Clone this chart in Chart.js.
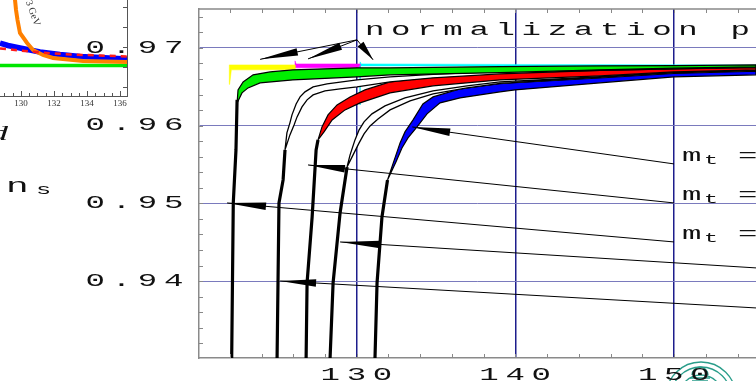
<!DOCTYPE html>
<html>
<head>
<meta charset="utf-8">
<script src="https://cdn.jsdelivr.net/npm/chart.js@4.4.1/dist/chart.umd.min.js"></script>
<style>
  html, body { margin: 0; padding: 0; background: #fff; }
  #wrap { position: relative; width: 756px; height: 381px; overflow: hidden; }
  #inset, #main { position: absolute; left: 0; top: 0; }
</style>
</head>
<body>
<div id="wrap">
  <canvas id="inset" width="135" height="110"></canvas>
  <canvas id="main" width="756" height="381"></canvas>
</div>
<script>
// ---- main panel: n_s against m_H (GeV) ----
var xTicks = [130, 140, 150];
var yTicks = [0.94, 0.95, 0.96, 0.97];
var xMinor = [122, 124, 126, 128, 130, 132, 134, 136, 138, 140, 142, 144, 146, 148, 150, 152, 154];
var yMinor = [0.932, 0.934, 0.936, 0.938, 0.940, 0.942, 0.944, 0.946, 0.948, 0.950, 0.952,
              0.954, 0.956, 0.958, 0.960, 0.962, 0.964, 0.966, 0.968, 0.970, 0.972, 0.974];

var greenStem = [[122.12, 0.9301], [122.22, 0.95005], [122.39, 0.95687], [122.46, 0.96331]];
var greenUpper = [[122.46, 0.96292], [122.52, 0.96459], [122.84, 0.96562], [123.47, 0.96653], [124.54, 0.96691],
                  [125.98, 0.96717], [130.02, 0.96743], [132.10, 0.96743], [139.03, 0.96759], [145.33, 0.96768],
                  [149.99, 0.96772], [155.16, 0.96781]];
var greenLower = [[122.46, 0.96292], [122.77, 0.96421], [123.15, 0.96485], [123.91, 0.96550], [125.98, 0.96588],
                  [130.02, 0.96627], [132.10, 0.96653], [139.03, 0.96682], [145.33, 0.96717], [149.99, 0.96739],
                  [155.16, 0.96755]];

var w1Stem = [[124.98, 0.9301], [125.10, 0.95005], [125.36, 0.95301], [125.48, 0.95687]];
var w1Outer = [[125.48, 0.95687], [125.60, 0.95906], [125.79, 0.96035], [125.92, 0.96138], [126.18, 0.96279],
               [126.43, 0.96369], [126.74, 0.96434], [127.25, 0.96498], [128.13, 0.96537], [130.02, 0.96588],
               [132.10, 0.96627], [134.81, 0.96659], [139.03, 0.96698], [145.33, 0.96725], [155.16, 0.96760]];
var w1Inner = [[125.48, 0.95687], [125.79, 0.95880], [126.05, 0.96009], [126.24, 0.96112], [126.55, 0.96241],
               [126.87, 0.96331], [127.25, 0.96395], [128.00, 0.96447], [128.95, 0.96472], [130.02, 0.96498],
               [132.10, 0.96562], [134.81, 0.96614], [139.03, 0.96665], [145.33, 0.96712], [155.16, 0.96752]];

var redStem = [[126.81, 0.9301], [126.87, 0.93976], [127.19, 0.94825], [127.44, 0.95687], [127.56, 0.95816]];
var redUpper = [[127.56, 0.95816], [127.81, 0.95983], [128.19, 0.96138], [128.76, 0.96266], [129.58, 0.96369],
                [130.52, 0.96459], [132.10, 0.96562], [134.81, 0.96627], [139.03, 0.96678], [145.33, 0.96710],
                [149.99, 0.96730], [155.16, 0.96745]];
var redLower = [[127.56, 0.95816], [127.94, 0.95919], [128.45, 0.96073], [129.26, 0.96202], [130.21, 0.96292],
                [132.10, 0.96421], [134.81, 0.96511], [139.03, 0.96588], [145.33, 0.96640], [149.99, 0.96691],
                [155.16, 0.96717]];

var w2Stem = [[128.32, 0.9301], [128.51, 0.93976], [128.95, 0.94876], [129.39, 0.95468]];
var w2Outer = [[129.39, 0.95468], [129.58, 0.95623], [129.89, 0.95816], [130.15, 0.95945], [130.46, 0.96048],
               [130.96, 0.96151], [131.78, 0.96254], [133.04, 0.96356], [134.81, 0.96447], [136.95, 0.96511],
               [139.03, 0.96562], [145.33, 0.96630], [149.99, 0.96684], [155.16, 0.96712]];
var w2Inner = [[129.39, 0.95468], [129.77, 0.95623], [130.15, 0.95777], [130.46, 0.95893], [130.84, 0.95996],
               [131.34, 0.96086], [132.10, 0.96202], [133.36, 0.96318], [134.81, 0.96408], [136.95, 0.96485],
               [139.03, 0.96543], [145.33, 0.96620], [149.99, 0.96677], [155.16, 0.96706]];

var blueStem = [[131.15, 0.9301], [131.28, 0.93976], [131.59, 0.94825], [131.94, 0.95301]];
var blueUpper = [[131.94, 0.95301], [132.41, 0.95584], [132.73, 0.95777], [133.04, 0.95919], [133.55, 0.96073],
                 [134.17, 0.96279], [134.81, 0.96369], [136.51, 0.96472], [139.03, 0.96540], [139.97, 0.96552],
                 [145.33, 0.96614], [149.99, 0.96672], [155.16, 0.96700]];
var blueLower = [[131.94, 0.95301], [132.47, 0.95533], [132.85, 0.95713], [133.23, 0.95842], [133.80, 0.95983],
                 [134.43, 0.96151], [135.25, 0.96292], [136.51, 0.96356], [139.03, 0.96434], [139.97, 0.96459],
                 [145.33, 0.96550], [149.99, 0.96627], [155.16, 0.96653]];

// normalization point strips
var yellowBar = [[121.97, 0.96781], [126.11, 0.96781], [126.11, 0.96717], [122.10, 0.96717], [121.99, 0.96530],
                 [121.97, 0.96717], [121.97, 0.96781]];
var magentaBar = [[126.11, 0.96743], [126.11, 0.96833], [126.18, 0.96794], [130.21, 0.96794], [130.21, 0.96743],
                  [126.11, 0.96743]];
var cyanBar = [[130.21, 0.96768], [130.21, 0.96820], [130.28, 0.96794], [140.0, 0.96787], [155.16, 0.96781],
               [155.16, 0.96768], [130.21, 0.96768]];
var cyanTick = [[130.21, 0.96768], [130.21, 0.96266]];

// arrows: first point is the tip
var arrowA = [[133.50, 0.95983], [149.99, 0.95507]];
var arrowB = [[126.93, 0.95494], [149.99, 0.95005]];
var arrowC = [[121.83, 0.95005], [149.99, 0.94503]];
var arrowD = [[128.95, 0.94503], [155.16, 0.94169]];
var arrowE = [[125.17, 0.94001], [155.16, 0.93654]];
var normArrow1 = [[123.91, 0.96852], [130.02, 0.97103]];
var normArrow2 = [[126.93, 0.96858], [130.02, 0.97103]];
var normArrow3 = [[131.03, 0.96846], [130.02, 0.97103]];

// ---- inset (top left, cut off) ----
var insetTicks = [130, 132, 134, 136];
var insetYMarks = [0.960, 0.965, 0.970, 0.975, 0.980];
var insetOrange = [[129.61, 0.98430], [129.64, 0.98180], [129.70, 0.97930], [129.79, 0.97680], [129.94, 0.97355],
                   [130.37, 0.97105], [130.73, 0.96930], [131.33, 0.96805], [131.94, 0.96730], [133.76, 0.96655],
                   [136.42, 0.96630]];
var insetBlue = [[128.73, 0.97105], [129.21, 0.97043], [129.94, 0.96980], [130.55, 0.96930], [131.15, 0.96880],
                 [132.36, 0.96818], [133.58, 0.96768], [134.79, 0.96743], [136.42, 0.96705]];
var insetRed = [[128.73, 0.96968], [129.94, 0.96918], [131.15, 0.96868], [132.97, 0.96818], [134.79, 0.96793],
                [136.42, 0.96768]];
var insetGreen = [[128.73, 0.96543], [136.42, 0.96543]];

function pts(arr) {
    return arr.map(function (p) { return {x: p[0], y: p[1]}; });
}

function line(arr, color, width) {
    return {data: pts(arr), borderColor: color, borderWidth: width, fill: false, pointRadius: 0, tension: 0};
}

function band(upper, lower, color, width) {
    var shape = upper.concat(lower.slice().reverse());
    shape.push(upper[0]);
    return {data: pts(shape), borderColor: '#000', borderWidth: width, backgroundColor: color,
            fill: 'shape', pointRadius: 0, tension: 0};
}

function arrow(arr, head) {
    var ds = line(arr, '#000', 1);
    ds.head = head;
    return ds;
}

// first dataset is drawn on top
var datasets = [
    arrow(arrowA, 38), arrow(arrowB, 37), arrow(arrowC, 39), arrow(arrowD, 40), arrow(arrowE, 36),
    arrow(normArrow1, 38), arrow(normArrow2, 35), arrow(normArrow3, 20),
    band(greenUpper, greenLower, '#00ee00', 1.2), line(greenStem, '#000', 3.2),
    band(w1Outer, w1Inner, '#fff', 1.3), line(w1Stem, '#000', 3.2),
    band(redUpper, redLower, '#ff0000', 1.2), line(redStem, '#000', 3.2),
    band(w2Outer, w2Inner, '#fff', 1.3), line(w2Stem, '#000', 3.2),
    band(blueUpper, blueLower, '#0000ff', 1.2), line(blueStem, '#000', 3.2),
    line(cyanTick, 'rgba(0,230,230,0.6)', 1)
];
[[yellowBar, '#ffff00'], [magentaBar, '#ff00ff'], [cyanBar, '#00ffff']].forEach(function (b) {
    datasets.push({data: pts(b[0]), borderColor: b[1], borderWidth: 0.5, backgroundColor: b[1],
                   fill: 'shape', pointRadius: 0, tension: 0});
});

// the old figure has wide, stretched lettering
var ctx = document.getElementById('main').getContext('2d');
var rawFill = ctx.fillText;
ctx.fillText = function (t, x, y) {
    this.save();
    this.translate(x, y);
    this.scale(1.8, 1);
    rawFill.call(this, t, 0, 0);
    this.restore();
};

var decor = {
    id: 'decor',
    beforeDraw: function (chart) {
        var c = chart.ctx;
        c.letterSpacing = '3.7px';
        // university seal, lower right
        c.save();
        c.strokeStyle = '#2a9d8a';
        c.lineWidth = 1.3;
        [35, 30, 22].forEach(function (r) {
            c.beginPath();
            c.arc(701, 397, r, 0, Math.PI * 2);
            c.stroke();
        });
        c.beginPath();
        c.arc(700, 375, 8, Math.PI, 0);
        c.moveTo(690, 378); c.lineTo(710, 378);
        c.moveTo(692, 381); c.lineTo(708, 381);
        c.stroke();
        c.restore();
    },
    afterDatasetsDraw: function (chart) {
        var c = chart.ctx;
        c.save();
        c.fillStyle = '#000';
        chart.data.datasets.forEach(function (ds, i) {
            if (!ds.head) return;
            var d = chart.getDatasetMeta(i).data;
            var dx = d[1].x - d[0].x, dy = d[1].y - d[0].y;
            var len = Math.hypot(dx, dy), ux = dx / len, uy = dy / len;
            var bx = d[0].x + ux * ds.head, by = d[0].y + uy * ds.head;
            c.beginPath();
            c.moveTo(d[0].x, d[0].y);
            c.lineTo(bx - uy * 3.8, by + ux * 3.8);
            c.lineTo(bx + uy * 3.8, by - ux * 3.8);
            c.closePath();
            c.fill();
        });
        c.restore();
    },
    afterDraw: function (chart) {
        var c = chart.ctx, a = chart.chartArea;
        var xs = chart.scales.x, ys = chart.scales.y;
        c.save();
        // top frame and inward minor ticks
        c.strokeStyle = '#888';
        c.lineWidth = 1.5;
        c.beginPath();
        c.moveTo(a.left, a.top); c.lineTo(a.right, a.top);
        c.stroke();
        c.lineWidth = 1;
        c.beginPath();
        yMinor.forEach(function (v) {
            var py = Math.round(ys.getPixelForValue(v)) + 0.5;
            c.moveTo(a.left, py); c.lineTo(a.left + 4, py);
        });
        xMinor.forEach(function (v) {
            var px = Math.round(xs.getPixelForValue(v)) + 0.5;
            c.moveTo(px, a.bottom); c.lineTo(px, a.bottom - 4);
            c.moveTo(px, a.top); c.lineTo(px, a.top + 4);
        });
        c.stroke();

        // texts
        c.fillStyle = '#111';
        c.textAlign = 'left';
        c.textBaseline = 'alphabetic';
        c.font = '18px "Liberation Mono"';
        c.fillText('normalization point', 365, 35);

        [0, 1, 2].forEach(function (i) {
            var e = chart.getDatasetMeta(i).data[1];
            var x0 = e.x + 8, base = e.y - 3;
            c.font = '18px "Liberation Mono"';
            c.fillText('m', x0, base);
            c.font = '13px "Liberation Mono"';
            c.fillText('t', x0 + 22, base + 3);
            c.font = '18px "Liberation Mono"';
            c.fillText('=', x0 + 56, base);
        });

        c.font = '21px "Liberation Mono"';
        c.fillText('n', 6, 192);
        c.font = '14px "Liberation Mono"';
        c.fillText('s', 36, 194);
        c.font = 'italic 20px "Liberation Serif"';
        c.fillText('d', -10, 140);
        c.restore();
    }
};

new Chart(ctx, {
    type: 'line',
    data: {datasets: datasets},
    options: {
        responsive: false,
        animation: false,
        events: [],
        layout: {padding: {top: 9, left: 0, right: 0, bottom: 0}},
        plugins: {legend: {display: false}, tooltip: {enabled: false}},
        scales: {
            x: {
                type: 'linear',
                min: 120.06,
                max: 155.16,
                afterFit: function (s) {
                    s.height = 23;
                    s.paddingLeft = 0;
                    s.paddingRight = 0;
                },
                afterBuildTicks: function (s) {
                    s.ticks = xTicks.map(function (v) { return {value: v}; });
                },
                grid: {color: '#1d1d8c', lineWidth: 1.5, drawTicks: false},
                border: {color: '#8a8a8a', width: 1.5},
                ticks: {
                    font: {family: 'Liberation Mono', size: 18},
                    color: '#111',
                    padding: 6,
                    labelOffset: 3,
                    maxRotation: 0,
                    autoSkip: false
                }
            },
            y: {
                type: 'linear',
                min: 0.9301,
                max: 0.9750,
                afterFit: function (s) {
                    s.width = 199;
                    s.paddingTop = 0;
                    s.paddingBottom = 0;
                },
                afterBuildTicks: function (s) {
                    s.ticks = yTicks.map(function (v) { return {value: v}; });
                },
                grid: {color: '#7a7abd', lineWidth: 1, drawTicks: false},
                border: {color: '#8a8a8a', width: 1.5},
                ticks: {
                    font: {family: 'Liberation Mono', size: 18},
                    color: '#111',
                    padding: 9,
                    callback: function (v) { return v.toFixed(2); }
                }
            }
        }
    },
    plugins: [decor]
});

// ---- inset chart ----
var insetDeco = {
    id: 'insetDeco',
    afterDraw: function (chart) {
        var c = chart.ctx, a = chart.chartArea;
        var xs = chart.scales.x, ys = chart.scales.y;
        c.save();
        c.strokeStyle = '#555';
        c.lineWidth = 1;
        c.beginPath();
        [129, 129.5, 130, 130.5, 131, 131.5, 132, 132.5, 133, 133.5, 134, 134.5, 135, 135.5, 136].forEach(function (v) {
            var px = Math.round(xs.getPixelForValue(v)) + 0.5;
            var len = (v % 2 === 0) ? 5 : 3;
            c.moveTo(px, a.bottom); c.lineTo(px, a.bottom - len);
        });
        insetYMarks.forEach(function (v) {
            var py = Math.round(ys.getPixelForValue(v)) + 0.5;
            c.moveTo(a.right, py); c.lineTo(a.right - 4, py);
        });
        c.stroke();
        c.translate(24, -3);
        c.rotate(1.22);
        c.fillStyle = '#333';
        c.font = '10px "Liberation Serif"';
        c.fillText('73 GeV', 0, 0);
        c.restore();
    }
};

var insetRedLine = line(insetRed, '#ff1a1a', 2.5);
insetRedLine.borderDash = [6, 5];

new Chart(document.getElementById('inset'), {
    type: 'line',
    data: {
        datasets: [
            insetRedLine,
            line(insetOrange, '#ff8000', 4),
            line(insetBlue, '#0000ff', 5.5),
            line(insetGreen, '#00e600', 3.5)
        ]
    },
    options: {
        responsive: false,
        animation: false,
        events: [],
        layout: {padding: 0},
        plugins: {legend: {display: false}, tooltip: {enabled: false}},
        scales: {
            x: {
                type: 'linear',
                min: 128.73,
                max: 136.42,
                afterFit: function (s) {
                    s.height = 14;
                    s.paddingLeft = 0;
                    s.paddingRight = 0;
                },
                afterBuildTicks: function (s) {
                    s.ticks = insetTicks.map(function (v) { return {value: v}; });
                },
                grid: {display: false, drawTicks: false},
                border: {color: '#555', width: 1},
                ticks: {font: {family: 'Liberation Serif', size: 9}, color: '#333', padding: 2,
                        maxRotation: 0, autoSkip: false}
            },
            y: {
                type: 'linear',
                position: 'right',
                min: 0.9578,
                max: 0.9818,
                afterFit: function (s) {
                    s.width = 8;
                    s.paddingTop = 0;
                    s.paddingBottom = 0;
                },
                grid: {display: false, drawTicks: false},
                border: {color: '#555', width: 1},
                ticks: {display: false}
            }
        }
    },
    plugins: [insetDeco]
});
</script>
</body>
</html>
